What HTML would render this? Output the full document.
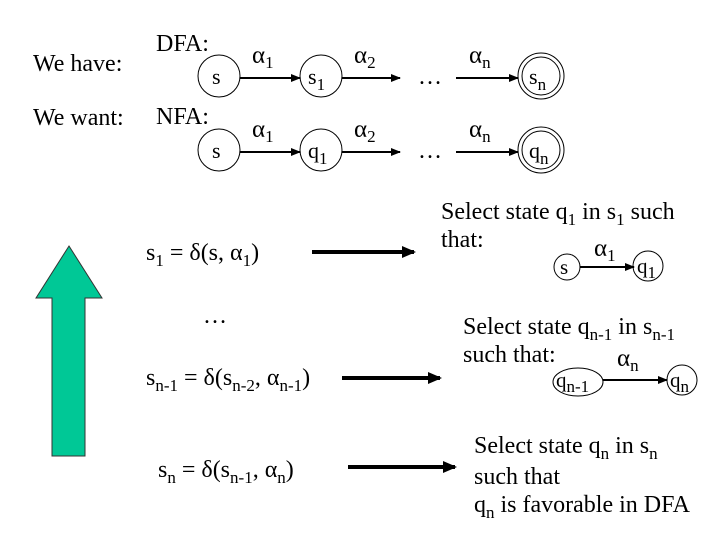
<!DOCTYPE html>
<html><head><meta charset="utf-8"><style>
html,body{margin:0;padding:0;background:#fff;}
svg{display:block;}
text{font-family:"Liberation Serif",serif;font-size:24px;fill:#000;}
.sb{font-size:17px;}
.n{font-size:22px;}
.a{font-size:25px;}
</style></head><body>
<svg width="720" height="540" viewBox="0 0 720 540">
<defs>
<marker id="ah" markerWidth="10" markerHeight="8" refX="9" refY="4" orient="auto" markerUnits="userSpaceOnUse">
<path d="M0,0 L10,4 L0,8 z" fill="#000"/></marker>
<marker id="ab" markerWidth="14" markerHeight="12" refX="12" refY="6" orient="auto" markerUnits="userSpaceOnUse">
<path d="M0,0 L14,6 L0,12 z" fill="#000"/></marker>
</defs>

<text x="33" y="71">We have:</text>
<text x="33" y="125">We want:</text>
<text x="156" y="51">DFA:</text>
<text x="156" y="124">NFA:</text>

<g fill="none" stroke="#000" stroke-width="1">
<circle cx="219" cy="76" r="21"/>
<circle cx="321" cy="76" r="21"/>
<circle cx="541" cy="76" r="23"/>
<circle cx="541" cy="76" r="19"/>
<circle cx="219" cy="150" r="21"/>
<circle cx="321" cy="150" r="21"/>
<circle cx="541" cy="150" r="23"/>
<circle cx="541" cy="150" r="19"/>
<circle cx="567" cy="267" r="13"/>
<circle cx="648" cy="266" r="15"/>
<ellipse cx="578" cy="382" rx="25" ry="14"/>
<circle cx="682" cy="380" r="15"/>
</g>
<g stroke="#000" stroke-width="2" marker-end="url(#ah)">
<line x1="240" y1="78" x2="300" y2="78"/>
<line x1="342" y1="78" x2="400" y2="78"/>
<line x1="456" y1="78" x2="518" y2="78"/>
<line x1="240" y1="152" x2="300" y2="152"/>
<line x1="342" y1="152" x2="400" y2="152"/>
<line x1="456" y1="152" x2="518" y2="152"/>
<line x1="580" y1="267" x2="634" y2="267"/>
<line x1="603" y1="380" x2="667" y2="380"/>
</g>
<text class="n" x="212" y="84">s</text>
<text class="n" x="308" y="84">s<tspan class="sb" dy="6">1</tspan></text>
<text class="n" x="529" y="84">s<tspan class="sb" dy="6">n</tspan></text>
<text class="n" x="212" y="158">s</text>
<text class="n" x="308" y="158">q<tspan class="sb" dy="6">1</tspan></text>
<text class="n" x="529" y="158">q<tspan class="sb" dy="6">n</tspan></text>
<text class="a" x="252" y="63">α<tspan class="sb" dy="5">1</tspan></text>
<text class="a" x="354" y="63">α<tspan class="sb" dy="5">2</tspan></text>
<text class="a" x="469" y="63">α<tspan class="sb" dy="5">n</tspan></text>
<text class="a" x="252" y="137">α<tspan class="sb" dy="5">1</tspan></text>
<text class="a" x="354" y="137">α<tspan class="sb" dy="5">2</tspan></text>
<text class="a" x="469" y="137">α<tspan class="sb" dy="5">n</tspan></text>
<text x="418" y="84">…</text>
<text x="418" y="158">…</text>

<path d="M69,246 L102,298 L85,298 L85,456 L52,456 L52,298 L36,298 Z" fill="#00c896" stroke="#333" stroke-width="1"/>

<text x="146" y="260">s<tspan class="sb" dy="6">1</tspan><tspan dy="-6"> = δ(s, α</tspan><tspan class="sb" dy="6">1</tspan><tspan dy="-6">)</tspan></text>
<text x="203" y="323">…</text>
<text x="146" y="385">s<tspan class="sb" dy="6">n-1</tspan><tspan dy="-6"> = δ(s</tspan><tspan class="sb" dy="6">n-2</tspan><tspan dy="-6">, α</tspan><tspan class="sb" dy="6">n-1</tspan><tspan dy="-6">)</tspan></text>
<text x="158" y="477">s<tspan class="sb" dy="6">n</tspan><tspan dy="-6"> = δ(s</tspan><tspan class="sb" dy="6">n-1</tspan><tspan dy="-6">, α</tspan><tspan class="sb" dy="6">n</tspan><tspan dy="-6">)</tspan></text>

<g stroke="#000" stroke-width="4" marker-end="url(#ab)">
<line x1="312" y1="252" x2="414" y2="252"/>
<line x1="342" y1="378" x2="440" y2="378"/>
<line x1="348" y1="467" x2="455" y2="467"/>
</g>

<text x="441" y="219">Select state q<tspan class="sb" dy="6">1</tspan><tspan dy="-6"> in s</tspan><tspan class="sb" dy="6">1</tspan><tspan dy="-6"> such</tspan></text>
<text x="441" y="247">that:</text>
<text x="560" y="274" style="font-size:21px">s</text>
<text x="637" y="273" style="font-size:21px">q<tspan class="sb" dy="5">1</tspan></text>
<text class="a" x="594" y="256">α<tspan class="sb" dy="5">1</tspan></text>

<text x="463" y="334">Select state q<tspan class="sb" dy="6">n-1</tspan><tspan dy="-6"> in s</tspan><tspan class="sb" dy="6">n-1</tspan></text>
<text x="463" y="362">such that:</text>
<text x="556" y="387" style="font-size:21px">q<tspan class="sb" dy="5">n-1</tspan></text>
<text x="670" y="387" style="font-size:21px">q<tspan class="sb" dy="5">n</tspan></text>
<text class="a" x="617" y="366">α<tspan class="sb" dy="5">n</tspan></text>

<text x="474" y="453">Select state q<tspan class="sb" dy="6">n</tspan><tspan dy="-6"> in s</tspan><tspan class="sb" dy="6">n</tspan></text>
<text x="474" y="484">such that</text>
<text x="474" y="512">q<tspan class="sb" dy="6">n</tspan><tspan dy="-6"> is favorable in DFA</tspan></text>
</svg>
</body></html>
